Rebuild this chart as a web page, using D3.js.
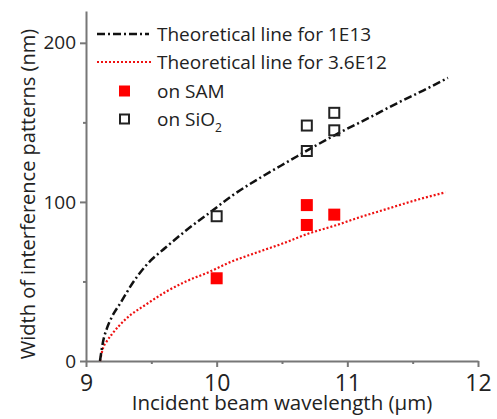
<!DOCTYPE html>
<html>
<head>
<meta charset="utf-8">
<script src="https://cdn.jsdelivr.net/npm/d3@7"></script>
<style>
  body { margin: 0; background: #fff; }
  svg text { font-family: "Open Sans", Lato, sans-serif; fill: #222; }
</style>
</head>
<body>
<svg id="chart" width="497" height="419"></svg>
<script>
// theoretical curve, 1E13
var lineHiX = [9.107, 9.13, 9.16, 9.2, 9.26, 9.357, 9.459, 9.612, 9.765, 9.943, 10.12, 10.35, 10.56, 10.75, 10.94, 11.17, 11.38, 11.58, 11.77];
var lineHiY = [0, 12, 20.5, 28, 36, 49, 60, 71.5, 82, 93, 104, 116, 126, 135, 143.5, 153, 162, 170, 178];
// theoretical curve, 3.6E12
var lineLoX = [9.107, 9.13, 9.16, 9.2, 9.306, 9.459, 9.612, 9.765, 9.943, 10.1, 10.3, 10.51, 10.7, 10.92, 11.1, 11.3, 11.52, 11.75];
var lineLoY = [0, 8, 12.5, 17, 26.5, 35.5, 43.5, 50, 56, 62, 68, 74, 80, 85.5, 90.5, 95.5, 101, 106];
// measured points
var samX = [10.0, 10.69, 10.69, 10.9];
var samY = [52, 98, 85.5, 92];
var sioX = [10.0, 10.69, 10.69, 10.9, 10.9];
var sioY = [91, 132, 148, 156, 145];
var xTicks = [9, 10, 11, 12];
var yTicks = [0, 100, 200];
var legendNames = ["Theoretical line for 1E13", "Theoretical line for 3.6E12", "on SAM", "on SiO"];

var svg = d3.select("#chart");
var x = d3.scaleLinear().domain([9, 12]).range([86, 478]);
var y = d3.scaleLinear().domain([0, 220]).range([361, 11]);
var axisColor = "#777";

// axes
var xAxis = svg.append("g").attr("transform", "translate(0," + y(0) + ")")
  .call(d3.axisBottom(x).tickValues(xTicks).tickFormat(d3.format("d")).tickSize(6).tickSizeOuter(0));
svg.append("g").attr("transform", "translate(0," + y(0) + ")")
  .call(d3.axisBottom(x).tickValues([9.5, 10.5, 11.5]).tickFormat("").tickSize(3).tickSizeOuter(0))
  .select(".domain").remove();
var yAxis = svg.append("g").attr("transform", "translate(" + x(9) + ",0)")
  .call(d3.axisLeft(y).tickValues(yTicks).tickSize(6).tickSizeOuter(0));
svg.append("g").attr("transform", "translate(" + x(9) + ",0)")
  .call(d3.axisLeft(y).tickValues([50, 150]).tickFormat("").tickSize(3).tickSizeOuter(0))
  .select(".domain").remove();
svg.selectAll(".domain, .tick line").attr("stroke", axisColor).attr("stroke-width", 2);
xAxis.selectAll("text").attr("font-size", 23).attr("y", 0).attr("dy", 30).style("fill", "#222");
yAxis.selectAll("text").attr("font-size", 19).attr("dx", "-1px").style("fill", "#222");

// titles
svg.append("text").attr("x", 282).attr("y", 410).attr("text-anchor", "middle")
  .attr("font-size", 20.5).text("Incident beam wavelength (\u03bcm)");
svg.append("text").attr("transform", "translate(35,194) rotate(-90)")
  .attr("text-anchor", "middle").attr("font-size", 20).text("Width of interference patterns (nm)");

// curves
var line = d3.line().x(function(d){ return x(d[0]); }).y(function(d){ return y(d[1]); }).curve(d3.curveMonotoneX);
svg.append("path").datum(d3.zip(lineLoX, lineLoY)).attr("d", line)
  .attr("fill", "none").attr("stroke", "#ee1111").attr("stroke-width", 2.2).attr("stroke-dasharray", "2,2");
svg.append("path").datum(d3.zip(lineHiX, lineHiY)).attr("d", line)
  .attr("fill", "none").attr("stroke", "#111").attr("stroke-width", 2.5).attr("stroke-dasharray", "8,3,2,3");

// points
var s = 12;
svg.selectAll(".sam").data(d3.zip(samX, samY)).enter().append("rect")
  .attr("x", function(d){ return x(d[0]) - s / 2; }).attr("y", function(d){ return y(d[1]) - s / 2; })
  .attr("width", s).attr("height", s).attr("fill", "#f00");
svg.selectAll(".sio").data(d3.zip(sioX, sioY)).enter().append("rect")
  .attr("x", function(d){ return x(d[0]) - (s - 2) / 2; }).attr("y", function(d){ return y(d[1]) - (s - 2) / 2; })
  .attr("width", s - 2).attr("height", s - 2).attr("fill", "none").attr("stroke", "#222").attr("stroke-width", 2);

// legend
var leg = svg.append("g");
var rowY = [34, 62, 91, 119];
leg.append("line").attr("x1", 97).attr("x2", 149).attr("y1", rowY[0]).attr("y2", rowY[0])
  .attr("stroke", "#111").attr("stroke-width", 2.5).attr("stroke-dasharray", "8,3,2,3");
leg.append("line").attr("x1", 97).attr("x2", 152).attr("y1", rowY[1]).attr("y2", rowY[1])
  .attr("stroke", "#ee1111").attr("stroke-width", 2.2).attr("stroke-dasharray", "2,2");
leg.append("rect").attr("x", 119).attr("y", rowY[2] - 5.5).attr("width", 11).attr("height", 11).attr("fill", "#f00");
leg.append("rect").attr("x", 120).attr("y", rowY[3] - 4.5).attr("width", 9).attr("height", 9)
  .attr("fill", "none").attr("stroke", "#222").attr("stroke-width", 2);
legendNames.forEach(function(n, i){
  var t = leg.append("text").attr("x", 157).attr("y", rowY[i]).attr("dy", "0.35em").attr("font-size", 19).text(n);
  if (i == 3) t.append("tspan").attr("dy", 6).attr("font-size", 12).text("2");
});
</script>
</body>
</html>
